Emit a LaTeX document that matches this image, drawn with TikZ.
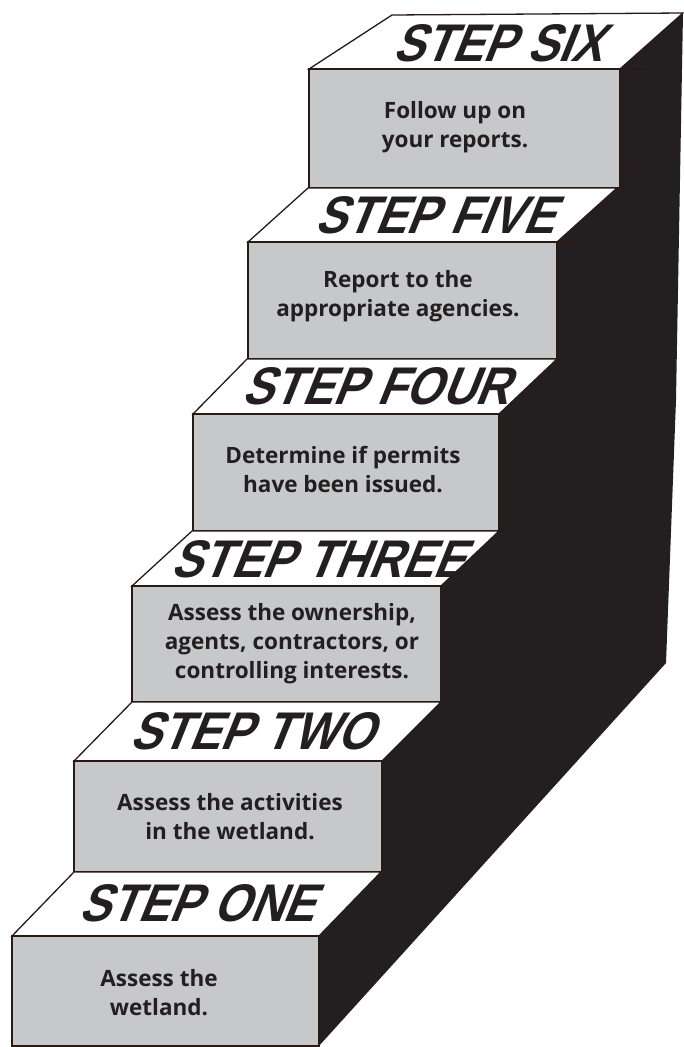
\documentclass[tikz,border=0pt]{standalone}
\usepackage{fontspec}
\newfontfamily\notefont{Open Sans}
\newfontfamily\headfont{Liberation Sans}[UprightFont={* Bold},FakeSlant=0.4,FakeStretch=0.88]
\definecolor{stairdark}{RGB}{35,31,32}
\definecolor{risergray}{RGB}{199,200,202}
\definecolor{edgeline}{RGB}{42,26,20}
\tikzset{x=1pt, y=-1pt,
    riser/.style={fill=risergray, draw=edgeline, line width=1.3pt},
    tread/.style={fill=white, draw=edgeline, line width=1.3pt},
    stephead/.style={font=\headfont\fontsize{53}{53}\selectfont, text=stairdark, inner sep=0pt},
    stepnote/.style={font=\notefont\bfseries\fontsize{22.5}{29}\selectfont, text=stairdark, align=center, inner sep=0pt},
    }

\begin{document}
\begin{tikzpicture}
	\useasboundingbox (0,0) rectangle (683,1047);
	% shadow side of the stairs
	\fill[stairdark] (683,13) -- (676,400) -- (666,663) -- (318,1047) -- (318,936) -- (600,69) -- cycle;
	\draw[edgeline, line width=1.3pt] (620,69) -- (645,69);
	\draw[edgeline, line width=1.3pt] (620,188) -- (638,163);
	\draw[edgeline, line width=1.3pt] (557,242) -- (583,242);
	\draw[edgeline, line width=1.3pt] (557,359) -- (567,359);

	% step six
	\draw[tread] (392,15) -- (683,13) -- (620,69) -- (309,69) -- cycle;
	\draw[riser] (309,69) rectangle (620,188);
	% step five
	\draw[tread] (308,188) -- (617,188) -- (557,242) -- (248,242) -- cycle;
	\draw[riser] (248,242) rectangle (557,359);
	% step four
	\draw[tread] (247,359) -- (557,359) -- (499,414) -- (193,414) -- cycle;
	\draw[riser] (193,414) rectangle (499,531);
	% step three
	\draw[tread] (192,531) -- (499,531) -- (441,586) -- (132,586) -- cycle;
	\draw[riser] (132,586) rectangle (441,702);
	% step two
	\draw[tread] (132,702) -- (441,702) -- (382,761) -- (74,761) -- cycle;
	\draw[riser] (74,761) rectangle (382,872);
	% step one
	\draw[tread] (74,872) -- (381,872) -- (319,936) -- (12,936) -- cycle;
	\draw[riser] (12,936) rectangle (319,1046);

	\node[stephead] (headSix) at (497,43) {STEP SIX};
	\node[stephead] (headFive) at (434,215) {STEP FIVE};
	\node[stephead] (headFour) at (375,386) {STEP FOUR};
	\node[stephead] (headThree) at (317,559) {STEP THREE};
	\node[stephead] (headTwo) at (251,731) {STEP TWO};
	\node[stephead] (headOne) at (196,903) {STEP ONE};

	\node[stepnote] (noteSix) at (455,127) {Follow up on\\your reports.};
	\node[stepnote] (noteFive) at (398,296) {Report to the\\appropriate agencies.};
	\node[stepnote] (noteFour) at (343,470) {Determine if permits\\have been issued.};
	\node[stepnote] (noteThree) at (292,644) {Assess the ownership,\\agents, contractors, or\\controlling interests.};
	\node[stepnote] (noteTwo) at (230,817) {Assess the activities\\in the wetland.};
	\node[stepnote] (noteOne) at (159,993) {Assess the\\wetland.};
\end{tikzpicture}
\end{document}
